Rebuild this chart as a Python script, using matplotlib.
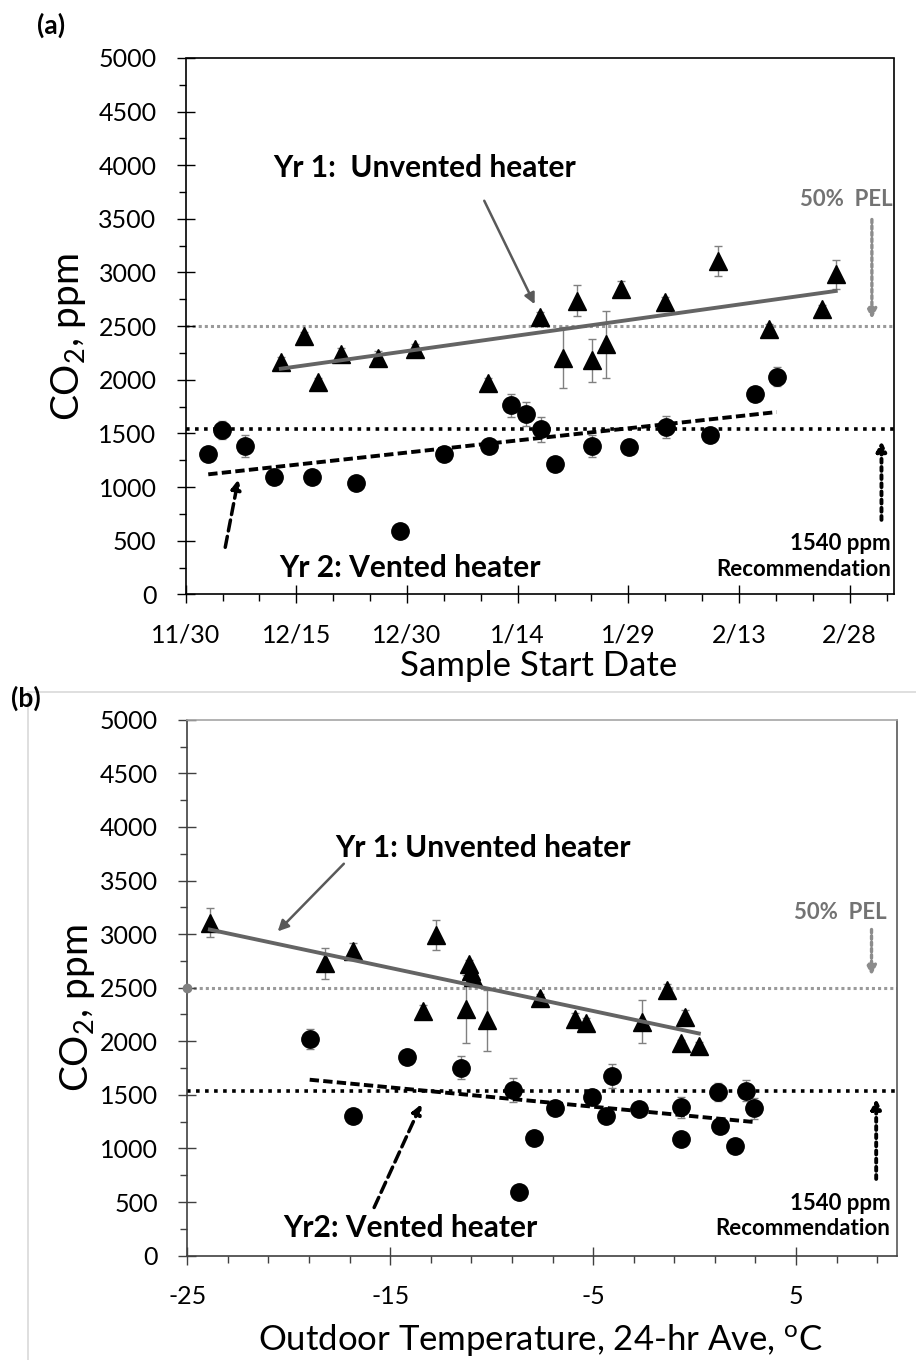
import numpy as np
import matplotlib
matplotlib.use('Agg')
import matplotlib.pyplot as plt
from matplotlib.lines import Line2D

plt.rcParams['font.family'] = ['Lato', 'DejaVu Sans']
plt.rcParams['mathtext.fontset'] = 'custom'
plt.rcParams['mathtext.rm'] = 'Lato'
plt.rcParams['mathtext.it'] = 'Lato:italic'
plt.rcParams['mathtext.bf'] = 'Lato:bold'
plt.rcParams['axes.unicode_minus'] = False

# ---- panel (a): CO2 vs sample start date (days after 11/30) ----
yr1_day = [12.9, 16.0, 17.9, 21.0, 26.0, 31.1, 41.0, 48.0, 51.1, 53.1, 55.1, 57.0, 59.0, 65.0, 72.2, 79.0, 86.2, 88.1]
yr1_co2 = [2169, 2405, 1983, 2237, 2206, 2284, 1973, 2589, 2205, 2735, 2181, 2330, 2850, 2728, 3108, 2470, 2657, 2983]
yr1_err = [40, 40, 30, 60, 60, 50, 40, 40, 285, 145, 200, 315, 70, 40, 137, 50, 40, 137]

yr2_day = [3.06, 4.97, 8.0, 12.0, 17.1, 23.1, 29.0, 35.0, 41.1, 44.1, 46.1, 48.2, 50.0, 55.1, 60.1, 65.1, 71.0, 77.1, 80.1]
yr2_co2 = [1305, 1532, 1383, 1094, 1097, 1035, 590, 1311, 1383, 1762, 1678, 1538, 1212, 1383, 1377, 1560, 1485, 1864, 2029]
yr2_err = [30, 85, 100, 30, 30, 30, 30, 40, 40, 107, 113, 115, 30, 100, 40, 100, 40, 30, 90]

date_ticks = [0, 15, 30, 45, 60, 75, 90]
date_labels = ['11/30', '12/15', '12/30', '1/14', '1/29', '2/13', '2/28']

# ---- panel (b): CO2 vs outdoor temperature ----
yr1_temp = [-23.89, -18.23, -16.84, -12.76, -11.1, -11.0, -10.93, -13.37, -11.26, -10.24, -7.6, -5.88, -5.37, -2.57, -1.36, -0.48, -0.67, 0.21]
yr1_co2b = [3106, 2727, 2845, 2991, 2721, 2657, 2600, 2285, 2300, 2198, 2400, 2205, 2173, 2183, 2480, 2229, 1981, 1956]
yr1_errb = [137, 145, 70, 137, 40, 40, 40, 50, 315, 285, 40, 60, 40, 200, 50, 60, 30, 40]

yr2_temp = [-18.97, -16.84, -14.18, -11.49, -8.96, -8.66, -7.9, -6.88, -5.07, -4.37, -4.07, -2.75, -0.67, -0.67, 1.14, 1.23, 2.0, 2.53, 2.93]
yr2_co2b = [2021, 1306, 1856, 1754, 1545, 591, 1095, 1374, 1483, 1306, 1679, 1368, 1384, 1085, 1530, 1210, 1026, 1539, 1374]
yr2_errb = [90, 30, 30, 107, 115, 30, 30, 40, 40, 30, 113, 40, 100, 30, 85, 30, 30, 100, 100]

pel_half = 2500
recommend = 1540

GRAY_LINE = '#9a9a9a'
GRAY_TXT = '#737373'
TREND = '#646464'

fig = plt.figure(figsize=(9.16, 13.6), dpi=100)
ax1 = fig.add_axes([0.2027, 0.5630, 0.7733, 0.3944])
ax2 = fig.add_axes([0.2045, 0.0767, 0.7753, 0.3941])

# light gray chart-area border around panel (b)
fig.add_artist(Line2D([28/916, 1.0], [1 - 692/1360] * 2, color='#d9d9d9', lw=1.2))
fig.add_artist(Line2D([28/916] * 2, [0, 1 - 692/1360], color='#d9d9d9', lw=1.2))


def draw_series(ax, x1, y1, e1, x2, y2, e2):
    ax.axhline(pel_half, color=GRAY_LINE, lw=2.2, ls=(0, (1, 1.0)), zorder=1)
    ax.axhline(recommend, color='black', lw=2.6, ls=(0, (1, 1.5)), zorder=1)
    ax.errorbar(x1, y1, yerr=e1, fmt='none', ecolor='#808080', elinewidth=1, capsize=3, zorder=2)
    ax.errorbar(x2, y2, yerr=e2, fmt='none', ecolor='#808080', elinewidth=1, capsize=3, zorder=2)
    ax.plot(x1, y1, '^', color='black', ms=13, zorder=3)
    ax.plot(x2, y2, 'o', color='black', ms=12.5, zorder=3)
    p1 = np.polyfit(x1, y1, 1)
    xs = np.array([min(x1), max(x1)])
    ax.plot(xs, np.polyval(p1, xs), color=TREND, lw=2.8, zorder=4)
    p2 = np.polyfit(x2, y2, 1)
    xs = np.array([min(x2), max(x2)])
    ax.plot(xs, np.polyval(p2, xs), color='black', lw=2.8, ls=(0, (2.4, 1.1)), zorder=4)
    ax.set_ylim(0, 5000)
    ax.set_yticks(np.arange(0, 5001, 500))
    ax.set_yticks(np.arange(0, 5001, 250), minor=True)
    ax.tick_params(which='major', direction='inout', length=13, width=1, labelsize=18, pad=14.5)
    ax.tick_params(which='minor', direction='out', length=5, width=1)


# ---------------- (a) ----------------
draw_series(ax1, yr1_day, yr1_co2, yr1_err, yr2_day, yr2_co2, yr2_err)
ax1.set_xlim(0, 96)
ax1.set_xticks(date_ticks)
ax1.set_xticklabels(date_labels)
ax1.set_xticks(np.arange(0, 96, 5), minor=True)
for s in ax1.spines.values():
    s.set_linestyle((0, (1, 1)))
    s.set_linewidth(1.2)
    s.set_color('black')

ax1.set_xlabel('Sample Start Date', fontsize=25, va='top')
ax1.xaxis.set_label_coords(0.498, -0.103)
ax1.set_ylabel(r'CO$_2$, ppm', fontsize=28)
ax1.yaxis.set_label_coords(-0.1375, 0.48)

ax1.text(32.35, 3893, 'Yr 1:  Unvented heater', ha='center', va='baseline', fontsize=21.5, fontweight='bold')
ax1.annotate('', xy=(47.46, 2681), xytext=(40.3, 3692),
             arrowprops=dict(arrowstyle='-|>', color='#595959', lw=1.8, mutation_scale=16))
ax1.text(95.75, 3623, '50%  PEL', ha='right', va='baseline', fontsize=16, fontweight='bold', color=GRAY_TXT)
ax1.annotate('', xy=(93.0, 2541), xytext=(93.0, 3520),
             arrowprops=dict(arrowstyle='-|>', color='#8c8c8c', lw=2.4, ls=(0, (1, 0.9)), mutation_scale=14))
ax1.text(30.36, 160, 'Yr 2: Vented heater', ha='center', va='baseline', fontsize=21.5, fontweight='bold')
ax1.annotate('', xy=(7.2, 1096), xytext=(5.29, 413),
             arrowprops=dict(arrowstyle='-|>', color='black', lw=2.5, ls=(0, (3.2, 1.6)), mutation_scale=14))
ax1.text(95.56, 413, '1540 ppm', ha='right', va='baseline', fontsize=16, fontweight='bold')
ax1.text(95.56, 170, 'Recommendation', ha='right', va='baseline', fontsize=16, fontweight='bold')
ax1.annotate('', xy=(94.3, 1454), xytext=(94.3, 668),
             arrowprops=dict(arrowstyle='-|>', color='black', lw=2.8, ls=(0, (1, 1.1)), mutation_scale=14))

# ---------------- (b) ----------------
draw_series(ax2, yr1_temp, yr1_co2b, yr1_errb, yr2_temp, yr2_co2b, yr2_errb)
ax2.plot([-25], [pel_half], 'o', color='#808080', ms=6, clip_on=False, zorder=5)
ax2.set_xlim(-25, 10)
ax2.set_xticks([-25, -15, -5, 5])
ax2.set_xticks(np.arange(-25, 10.1, 2), minor=True)
ax2.spines['top'].set_color('#a6a6a6')
ax2.spines['right'].set_color('#595959')
ax2.spines['left'].set_color('#404040')
ax2.spines['bottom'].set_color('#404040')
for s in ax2.spines.values():
    s.set_linewidth(1.2)
ax2.tick_params(which='both', color='#404040')

ax2.set_xlabel(r'Outdoor Temperature, 24-hr Ave, $^{\mathrm{o}}$C', fontsize=25, va='top')
ax2.xaxis.set_label_coords(0.498, -0.124)
ax2.set_ylabel(r'CO$_2$, ppm', fontsize=28)
ax2.yaxis.set_label_coords(-0.1275, 0.462)

ax2.text(-10.43, 3720, 'Yr 1: Unvented heater', ha='center', va='baseline', fontsize=21.5, fontweight='bold')
ax2.annotate('', xy=(-20.64, 3007), xytext=(-17.19, 3675),
             arrowprops=dict(arrowstyle='-|>', color='#595959', lw=1.8, mutation_scale=16))
ax2.text(9.47, 3139, '50%  PEL', ha='right', va='baseline', fontsize=16, fontweight='bold', color=GRAY_TXT)
ax2.annotate('', xy=(8.72, 2587), xytext=(8.72, 3069),
             arrowprops=dict(arrowstyle='-|>', color='#8c8c8c', lw=2.4, ls=(0, (1, 0.9)), mutation_scale=14))
ax2.text(-14.02, 172, 'Yr2: Vented heater', ha='center', va='baseline', fontsize=21.5, fontweight='bold')
ax2.annotate('', xy=(-13.41, 1437), xytext=(-15.85, 426),
             arrowprops=dict(arrowstyle='-|>', color='black', lw=2.5, ls=(0, (3.2, 1.6)), mutation_scale=14))
ax2.text(9.66, 426, '1540 ppm', ha='right', va='baseline', fontsize=16, fontweight='bold')
ax2.text(9.66, 193, 'Recommendation', ha='right', va='baseline', fontsize=16, fontweight='bold')
ax2.annotate('', xy=(8.95, 1489), xytext=(8.95, 690),
             arrowprops=dict(arrowstyle='-|>', color='black', lw=2.8, ls=(0, (1, 1.1)), mutation_scale=14))

fig.text(51/916, 1 - 25/1360, '(a)', ha='center', va='center', fontsize=19, fontweight='bold')
fig.text(26/916, 1 - 698/1360, '(b)', ha='center', va='center', fontsize=19, fontweight='bold')

fig.savefig('out.png', dpi=100)
